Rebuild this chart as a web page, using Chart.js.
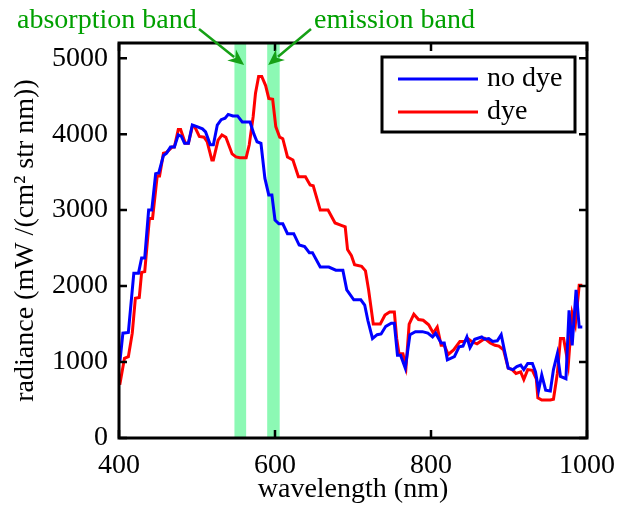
<!DOCTYPE html>
<html>
<head>
<meta charset="utf-8">
<script src="https://cdn.jsdelivr.net/npm/chart.js@4.4.1/dist/chart.umd.min.js"></script>
<style>
  html, body { margin: 0; padding: 0; background: #fff; }
</style>
</head>
<body>
<canvas id="spectrum" width="618" height="506"></canvas>
<script>
// wavelength (nm) / radiance readings, no dye
const wavelengthNoDye = [401,405,412,419,425,429,433,438,442,447,451,457,461,466,471,476,480,484,489,494,500,507,511,517,521,526,531,536,540,546,552,558,568,573,577,582,587,592,596,600,605,610,616,624,631,638,644,648,658,669,678,687,692,701,710,715,719,725,731,736,742,749,753,757,761,767,773,780,789,796,802,806,813,817,821,830,836,841,846,850,856,865,869,874,879,885,890,894,899,905,910,915,919,924,930,934,938,942,947,953,957,962,966,973,977,981,986,990,994];
const radianceNoDye = [990,1380,1390,2170,2170,2370,2370,3000,3000,3480,3490,3720,3750,3830,3830,3990,3970,3880,3880,4120,4100,4070,4030,3860,3860,4120,4190,4210,4260,4240,4240,4160,4160,4000,3900,3880,3420,3200,3200,2870,2820,2820,2690,2690,2540,2520,2440,2440,2250,2250,2210,2210,1950,1820,1820,1750,1550,1310,1360,1370,1470,1510,1510,1090,1090,920,1360,1400,1400,1380,1330,1380,1250,1250,1030,1070,1200,1210,1330,1190,1300,1330,1300,1310,1270,1280,1360,1160,920,900,940,960,900,980,980,870,630,830,630,620,900,1110,810,780,1680,1220,1950,1460,1460];

// wavelength (nm) / radiance readings, dye
const wavelengthDye = [401,407,412,417,421,426,429,433,439,443,449,452,457,461,468,471,476,479,485,489,494,497,503,509,513,519,521,527,532,537,545,550,555,563,567,572,575,579,583,588,592,597,601,606,610,616,623,630,639,645,649,658,668,677,685,690,693,698,702,711,716,720,726,735,741,747,753,756,759,764,768,772,778,784,790,797,803,808,813,817,822,829,837,843,847,852,859,869,876,882,887,893,899,904,909,915,919,924,930,935,937,942,953,957,962,966,970,976,981,985,990,994];
const radianceDye = [700,1050,1070,1380,1840,1850,2180,2190,2890,2890,3450,3450,3750,3760,3830,3830,4060,4060,3880,3880,4100,4100,3970,3960,3900,3660,3660,3920,3990,3960,3740,3700,3690,3690,3860,4230,4540,4760,4760,4640,4470,4460,4100,3960,3940,3700,3660,3440,3440,3330,3320,3000,3000,2830,2800,2780,2480,2400,2280,2260,2200,1950,1500,1500,1620,1660,1660,1310,1110,1110,940,1500,1630,1560,1550,1490,1380,1460,1220,1220,1100,1160,1270,1270,1310,1270,1240,1310,1250,1220,1210,1160,920,900,850,870,770,900,890,780,530,500,500,510,850,1310,1310,960,1640,1490,2010,2010];

// axis ticks
const xTicks = [400, 600, 800, 1000];
const yTicks = [0, 1000, 2000, 3000, 4000, 5000];

// absorption / emission bands (nm)
const absorptionBand = [548, 563];
const emissionBand = [590, 606];

const SERIF = "'Liberation Serif', 'Times New Roman', serif";

// draws the bands, box frame, inward ticks, legend and arrows
const decor = {
  id: 'decor',
  beforeDatasetsDraw(chart) {
    const { ctx, chartArea: a, scales: { x } } = chart;
    ctx.save();
    ctx.fillStyle = '#8cf9b4';
    [absorptionBand, emissionBand].forEach(b => {
      const x0 = x.getPixelForValue(b[0]);
      const x1 = x.getPixelForValue(b[1]);
      ctx.fillRect(x0, a.top, x1 - x0, a.bottom - a.top);
    });
    ctx.restore();
  },
  afterDatasetsDraw(chart) {
    const { ctx, chartArea: a, scales: { x, y } } = chart;
    ctx.save();
    // frame
    ctx.strokeStyle = '#000';
    ctx.lineWidth = 3;
    ctx.strokeRect(a.left, a.top, a.right - a.left, a.bottom - a.top);
    // inward ticks
    ctx.lineWidth = 2.5;
    ctx.beginPath();
    xTicks.forEach(v => {
      const px = x.getPixelForValue(v);
      ctx.moveTo(px, a.bottom); ctx.lineTo(px, a.bottom - 8);
      ctx.moveTo(px, a.top); ctx.lineTo(px, a.top + 8);
    });
    yTicks.forEach(v => {
      const py = y.getPixelForValue(v);
      ctx.moveTo(a.left, py); ctx.lineTo(a.left + 8, py);
      ctx.moveTo(a.right, py); ctx.lineTo(a.right - 8, py);
    });
    ctx.stroke();

    // legend
    const lx = a.left + 263, ly = a.top + 14, lw = 193, lh = 75;
    ctx.fillStyle = '#fff';
    ctx.fillRect(lx, ly, lw, lh);
    ctx.lineWidth = 3;
    ctx.strokeRect(lx, ly, lw, lh);
    ctx.font = '28px ' + SERIF;
    ctx.textBaseline = 'middle';
    ctx.textAlign = 'left';
    chart.data.datasets.forEach((ds, i) => {
      const yy = ly + 22 + i * 33;
      ctx.strokeStyle = ds.borderColor;
      ctx.lineWidth = 3;
      ctx.beginPath();
      ctx.moveTo(lx + 16, yy); ctx.lineTo(lx + 96, yy);
      ctx.stroke();
      ctx.fillStyle = '#000';
      ctx.fillText(ds.label, lx + 105, yy);
    });

    // annotation text + arrows
    ctx.fillStyle = '#00a000';
    ctx.textBaseline = 'alphabetic';
    ctx.fillText('absorption band', 17, 28);
    ctx.fillText('emission band', 314, 28);
    arrow(ctx, 199, 29, x.getPixelForValue(absorptionBand[1]) - 2, a.top + 22);
    arrow(ctx, 311, 29, x.getPixelForValue(emissionBand[0]) + 1, a.top + 22);
    ctx.restore();
  }
};

function arrow(ctx, x0, y0, x1, y1) {
  const ang = Math.atan2(y1 - y0, x1 - x0);
  const len = 16, wid = 7;
  ctx.strokeStyle = '#16a016';
  ctx.fillStyle = '#16a016';
  ctx.lineWidth = 2.5;
  ctx.beginPath();
  ctx.moveTo(x0, y0);
  ctx.lineTo(x1 - len * 0.8 * Math.cos(ang), y1 - len * 0.8 * Math.sin(ang));
  ctx.stroke();
  ctx.beginPath();
  ctx.moveTo(x1, y1);
  ctx.lineTo(x1 - len * Math.cos(ang) + wid * Math.sin(ang), y1 - len * Math.sin(ang) - wid * Math.cos(ang));
  ctx.lineTo(x1 - len * 0.7 * Math.cos(ang), y1 - len * 0.7 * Math.sin(ang));
  ctx.lineTo(x1 - len * Math.cos(ang) - wid * Math.sin(ang), y1 - len * Math.sin(ang) + wid * Math.cos(ang));
  ctx.closePath();
  ctx.fill();
}

const ctx = document.getElementById('spectrum').getContext('2d');
const spectrumChart = new Chart(ctx, {
  type: 'line',
  data: {
    datasets: [{
      label: 'no dye',
      data: wavelengthNoDye.map((w, i) => ({ x: w, y: radianceNoDye[i] })),
      borderColor: '#0000ff',
      borderWidth: 3,
      pointRadius: 0,
      tension: 0
    }, {
      label: 'dye',
      data: wavelengthDye.map((w, i) => ({ x: w, y: radianceDye[i] })),
      borderColor: '#ff0000',
      borderWidth: 3,
      pointRadius: 0,
      tension: 0
    }]
  },
  options: {
    responsive: false,
    animation: false,
    devicePixelRatio: 1,
    layout: { padding: { top: 43, right: 31, left: 0, bottom: 0 } },
    plugins: {
      legend: { display: false },
      tooltip: { enabled: false }
    },
    scales: {
      x: {
        type: 'linear',
        min: 400,
        max: 1000,
        grid: { display: false },
        border: { display: false },
        afterBuildTicks: s => { s.ticks = xTicks.map(v => ({ value: v })); },
        afterFit: s => { s.height = 68; },
        ticks: { color: '#000', padding: 3, font: { family: SERIF, size: 28 }, callback: v => String(v) },
        title: {
          display: true,
          text: 'wavelength (nm)',
          color: '#000',
          padding: 0,
          font: { family: SERIF, size: 28 }
        }
      },
      y: {
        min: 0,
        max: 5200,
        grid: { display: false },
        border: { display: false },
        afterBuildTicks: s => { s.ticks = yTicks.map(v => ({ value: v })); },
        afterFit: s => { s.width = 119; },
        ticks: { color: '#000', padding: 3, font: { family: SERIF, size: 28 }, callback: v => String(v) },
        title: {
          display: true,
          text: 'radiance (mW /(cm\u00b2 str nm))',
          color: '#000',
          padding: { top: 9, bottom: 0 },
          font: { family: SERIF, size: 28 }
        }
      }
    }
  },
  plugins: [decor]
});
</script>
</body>
</html>
